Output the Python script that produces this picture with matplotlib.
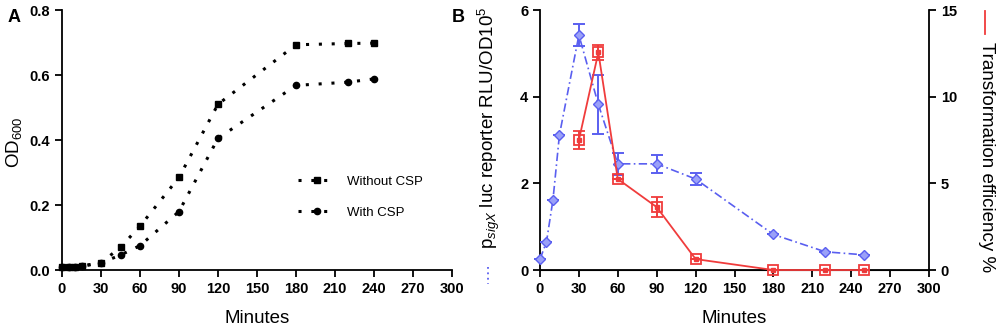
import matplotlib
matplotlib.use("Agg")
import matplotlib.pyplot as plt
from matplotlib.lines import Line2D

plt.rcParams['font.family'] = ['Liberation Sans', 'DejaVu Sans']
plt.rcParams['mathtext.fontset'] = 'custom'
plt.rcParams['mathtext.rm'] = 'Liberation Sans'
plt.rcParams['mathtext.it'] = 'Liberation Sans:italic'
plt.rcParams['mathtext.bf'] = 'Liberation Sans:bold'

# ---- Panel A data ----
time_a = [0, 5, 10, 15, 30, 45, 60, 90, 120, 180, 220, 240]
od_without = [0.008, 0.008, 0.009, 0.012, 0.022, 0.070, 0.135, 0.285, 0.510, 0.693, 0.697, 0.698]
od_with = [0.008, 0.008, 0.009, 0.012, 0.022, 0.046, 0.075, 0.180, 0.405, 0.568, 0.578, 0.588]

# ---- Panel B data ----
time_lux = [0, 5, 10, 15, 30, 45, 60, 90, 120, 180, 220, 250]
lux = [0.25, 0.65, 1.62, 3.12, 5.42, 3.82, 2.45, 2.45, 2.10, 0.82, 0.42, 0.35]
lux_err = [0, 0, 0, 0, 0.25, 0.68, 0.25, 0.20, 0.14, 0, 0, 0]

time_tf = [30, 45, 60, 90, 120, 180, 220, 250]
tf = [7.5, 12.55, 5.25, 3.63, 0.63, 0.0, 0.0, 0.0]
tf_err = [0.5, 0.45, 0.0, 0.58, 0.0, 0.0, 0.0, 0.0]

xticks = [0, 30, 60, 90, 120, 150, 180, 210, 240, 270, 300]

fig = plt.figure(figsize=(10, 3.29), dpi=100)

def style(ax):
    ax.spines['top'].set_visible(False)
    ax.spines['right'].set_visible(False)
    for s in ax.spines.values():
        s.set_linewidth(1.3)
    ax.tick_params(width=1.3, length=5, labelsize=10.5)
    for lab in ax.get_xticklabels() + ax.get_yticklabels():
        lab.set_fontweight('bold')

# ---- Panel A ----
axA = fig.add_axes([0.062, 0.1793, 0.39, 0.7903])
axA.plot(time_a, od_without, color='black', linestyle=(0, (1, 3.2)), linewidth=2.2,
         marker='s', markersize=4.5, clip_on=False, label='Without CSP')
axA.plot(time_a, od_with, color='black', linestyle=(0, (1, 3.2)), linewidth=2.2,
         marker='o', markersize=4.5, clip_on=False, label='With CSP')
axA.set_xlim(0, 300)
axA.set_ylim(0, 0.8)
axA.set_xticks(xticks)
axA.set_yticks([0.0, 0.2, 0.4, 0.6, 0.8])
axA.set_yticklabels(['0.0', '0.2', '0.4', '0.6', '0.8'])
axA.set_xlabel('Minutes', fontsize=13.5, labelpad=10)
axA.set_ylabel('OD$_{600}$', fontsize=13.5)
axA.yaxis.set_label_coords(-0.098, 0.49)
style(axA)
axA.legend(loc='upper left', bbox_to_anchor=(0.575, 0.41), frameon=False,
           prop={'size': 9.5},
           handlelength=2.8, labelspacing=1.45, handletextpad=0.9)

# ---- Panel B ----
axB = fig.add_axes([0.54, 0.1793, 0.389, 0.7903])
blue = '#5a5ff0'
red = '#f03c3c'
axB.errorbar(time_lux, lux, yerr=lux_err, color=blue, linestyle=(0, (5, 2, 1, 2)), linewidth=1.2,
             marker='D', markersize=5.5, markerfacecolor='#9aa0f8', markeredgecolor=blue,
             capsize=4, elinewidth=1.4, capthick=1.4, clip_on=False, zorder=3)
axB.set_xlim(0, 300)
axB.set_ylim(0, 6)
axB.set_xticks(xticks)
axB.set_yticks([0, 2, 4, 6])
axB.set_xlabel('Minutes', fontsize=13.5, labelpad=10)
style(axB)

axR = axB.twinx()
axR.errorbar(time_tf, tf, yerr=tf_err, color=red, linestyle='-', linewidth=1.3,
             marker='s', markersize=7.5, markerfacecolor='none', markeredgecolor=red,
             markeredgewidth=1.3, capsize=4, elinewidth=1.4, capthick=1.4, clip_on=False, zorder=3)
axR.plot(time_tf, tf, linestyle='none', marker='s', markersize=2.5, color=red, clip_on=False)
axR.set_ylim(0, 15)
axR.set_yticks([0, 5, 10, 15])
axR.spines['top'].set_visible(False)
axR.spines['left'].set_visible(False)
axR.spines['right'].set_linewidth(1.3)
axR.tick_params(width=1.3, length=5, labelsize=10.5)
for lab in axR.get_yticklabels():
    lab.set_fontweight('bold')

# Panel B axis titles with line keys
fig.text(0.489, 1 - 128 / 329, 'p$_{\\mathit{sigX}}$ luc reporter RLU/OD10$^5$', rotation=90,
         fontsize=13.5, ha='center', va='center')
fig.add_artist(Line2D([0.488, 0.488], [1 - 267 / 329, 1 - 284 / 329], color=blue,
                      linestyle=(0, (1, 2)), linewidth=1.3, transform=fig.transFigure))
fig.text(0.987, 1 - 157 / 329, 'Transformation efficiency %', rotation=270,
         fontsize=13.5, ha='center', va='center')
fig.add_artist(Line2D([0.985, 0.985], [1 - 11 / 329, 1 - 34 / 329], color=red,
                      linewidth=1.3, transform=fig.transFigure))

# Panel letters
fig.text(0.008, 1 - 17 / 329, 'A', fontsize=13, fontweight='bold', va='center')
fig.text(0.452, 1 - 17 / 329, 'B', fontsize=13, fontweight='bold', va='center')

fig.savefig('out.png', dpi=100)
